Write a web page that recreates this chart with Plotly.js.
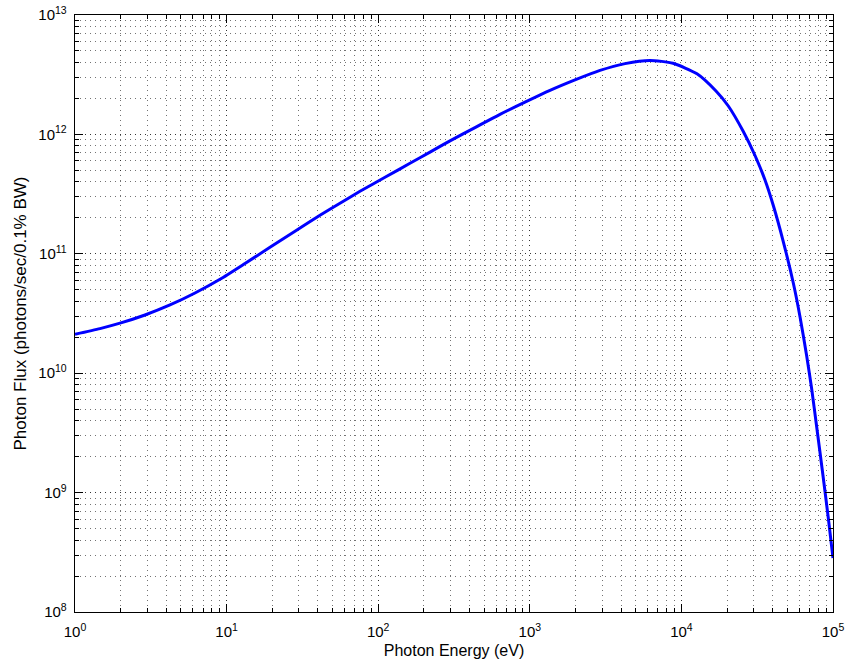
<!DOCTYPE html>
<html>
<head>
<meta charset="utf-8">
<script src="https://cdn.plot.ly/plotly-3.0.1.min.js"></script>
<style>html,body{margin:0;padding:0;background:#fff;}#chart{width:846px;height:667px;}</style>
</head>
<body>
<div id="chart"></div>
<script>
// Photon energy (eV) and photon flux (photons/sec/0.1% BW)
var energy = [1, 1.462, 1.981, 2.895, 4.233, 6.188, 9.046, 13.22, 19.33, 28.26, 41.31, 55.98,
              75.85, 110.9, 162.1, 219.7, 297.6, 435.0, 636.0, 929.7, 1359, 1987, 2905, 4246,
              6208, 8803, 12670, 16910, 20390, 25610, 30590, 35600, 40390, 46800, 54720,
              60580, 67070, 72360, 78070, 86300, 93110, 100000];
var flux = [2.118e10, 2.364e10, 2.624e10, 3.073e10, 3.726e10, 4.696e10, 6.115e10, 8.295e10,
            1.134e11, 1.543e11, 2.101e11, 2.654e11, 3.338e11, 4.372e11, 5.728e11, 7.11e11,
            8.822e11, 1.140e12, 1.471e12, 1.861e12, 2.336e12, 2.860e12, 3.436e12, 3.917e12,
            4.168e12, 3.940e12, 3.218e12, 2.309e12, 1.729e12, 1.057e12, 6.658e11, 4.151e11,
            2.538e11, 1.292e11, 5.693e10, 2.974e10, 1.394e10, 7.374e9, 3.543e9, 1.325e9,
            6.13e8, 2.834e8];

var xTickVals = [1, 10, 100, 1000, 10000, 100000];
var xTickText = ['10<sup>0</sup>', '10<sup>1</sup>', '10<sup>2</sup>', '10<sup>3</sup>', '10<sup>4</sup>', '10<sup>5</sup>'];
var yTickVals = [1e8, 1e9, 1e10, 1e11, 1e12, 1e13];
var yTickText = ['10<sup>8</sup>', '10<sup>9</sup>', '10<sup>10</sup>', '10<sup>11</sup>', '10<sup>12</sup>', '10<sup>13</sup>'];

var gridDash = '1px,4px';
var gridCol = 'rgba(0,0,0,0.55)';
var font = 'Liberation Sans, Arial, Helvetica, sans-serif';

function axisCommon(tv, tt, rng, title, titleSize) {
  return {
    type: 'log',
    range: rng,
    tickmode: 'array',
    tickvals: tv,
    ticktext: tt,
    ticks: 'inside',
    ticklen: 8,
    tickwidth: 1,
    tickcolor: '#000',
    showline: true,
    linecolor: '#000',
    linewidth: 1.3,
    mirror: 'allticks',
    showgrid: true,
    gridcolor: gridCol,
    griddash: gridDash,
    gridwidth: 1,
    zeroline: false,
    tickfont: {family: font, size: 15, color: '#000'},
    title: {text: title, font: {family: font, size: titleSize, color: '#000'}},
    minor: {
      dtick: 'D1',
      ticks: 'inside',
      ticklen: 4,
      tickcolor: '#000',
      showgrid: true,
      gridcolor: gridCol,
      griddash: gridDash,
      gridwidth: 1
    }
  };
}

var xa = axisCommon(xTickVals, xTickText, [0, 5], 'Photon Energy (eV)', 16);
xa.ticklabelstandoff = 6;
xa.title.standoff = 5;
var ya = axisCommon(yTickVals, yTickText, [8, 13], 'Photon Flux (photons/sec/0.1% BW)', 17);
ya.ticklabelstandoff = 4;
ya.title.standoff = 7;

var trace = {
  x: energy,
  y: flux,
  type: 'scatter',
  mode: 'lines',
  line: {color: '#0000ff', width: 3, shape: 'spline', smoothing: 0.6},
  hoverinfo: 'x+y'
};

var layout = {
  width: 846,
  height: 667,
  margin: {l: 75, r: 13, t: 15, b: 55},
  paper_bgcolor: '#fff',
  plot_bgcolor: '#fff',
  showlegend: false,
  xaxis: xa,
  yaxis: ya,
  font: {family: font, color: '#000'}
};

Plotly.newPlot('chart', [trace], layout, {displayModeBar: false, staticPlot: true});
</script>
</body>
</html>
